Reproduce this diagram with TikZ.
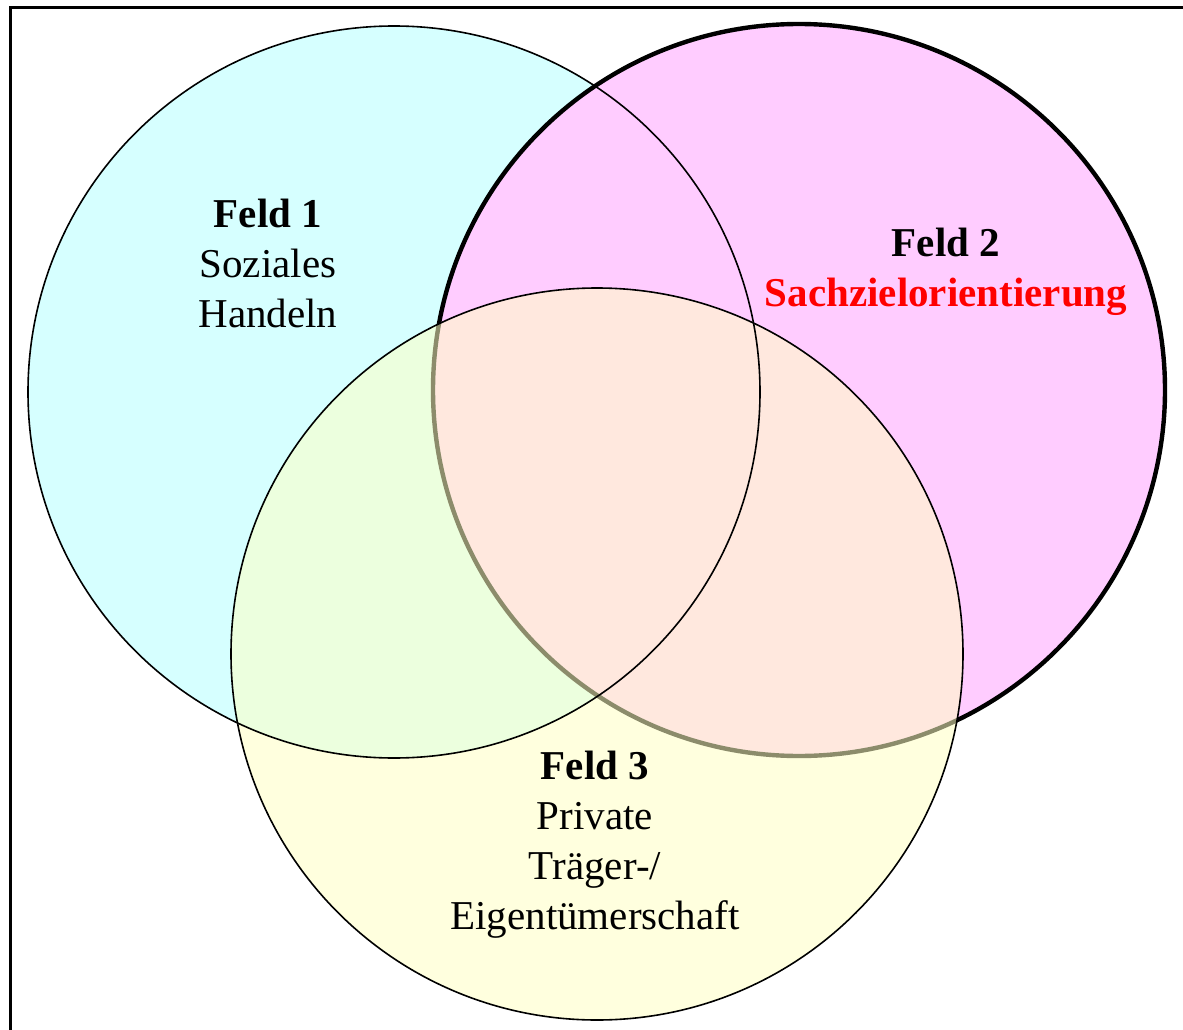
\documentclass[tikz,border=0pt]{standalone}
\usepackage{fontspec}
\setmainfont{Liberation Serif}
\usepackage{xcolor}
\usepackage{tikz}
\usetikzlibrary{positioning}

\definecolor{feldcyan}{RGB}{214,255,255}
\definecolor{feldpink}{RGB}{255,204,255}
\definecolor{feldyellow}{RGB}{255,255,195}
\definecolor{feldred}{RGB}{255,0,0}

\tikzset{
    feldtext/.style={align=center, inner sep=0pt, font=\fontsize{41}{50}\selectfont},
}

\begin{document}
\begin{tikzpicture}[x=1pt, y=-1pt]
    \clip (0,0) rectangle (1183,1030);
    \fill[white] (0,0) rectangle (1183,1030);
    \draw[line width=3pt] (10,1100) -- (10,8) -- (1250,8);

    \coordinate (m1) at (394,392);
    \coordinate (m2) at (799,390);
    \coordinate (m3) at (597,654);

    % circles: fill first, borders on top
    \fill[feldcyan] (m1) circle[radius=366];
    \fill[feldpink] (m2) circle[radius=366];
    \draw[line width=4.4pt] (m2) circle[radius=366];
    \fill[feldyellow, opacity=0.55] (m3) circle[radius=366];
    \draw[line width=1.6pt] (m1) circle[radius=366];
    \draw[line width=1.6pt] (m3) circle[radius=366];

    \node[feldtext] (feld1) at (268,263) {\textbf{Feld 1}\\Soziales\\Handeln};
    \node[feldtext] (feld2) at (946,272) {\textbf{Feld 2}\\\textcolor{feldred}{\textbf{Sachzielorientierung}}};
    \node[feldtext] (feld3) at (595,845) {\textbf{Feld 3}\\Private\\Träger-/\\Eigentümerschaft};

\end{tikzpicture}
\end{document}
